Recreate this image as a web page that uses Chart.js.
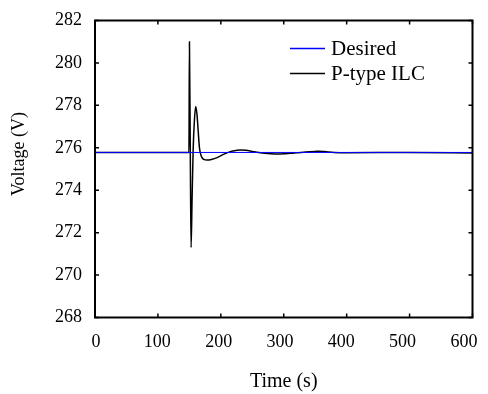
<!DOCTYPE html>
<html>
<head>
<meta charset="utf-8">
<script src="https://cdn.jsdelivr.net/npm/chart.js@4"></script>
<style>
  html, body { margin: 0; padding: 0; background: #fff; }
  #wrap { width: 488px; height: 394px; }
</style>
</head>
<body>
<div id="wrap"><canvas id="voltChart" width="488" height="394"></canvas></div>
<script>
// values
const desiredTime = [0, 600];
const desiredVoltage = [275.78, 275.78];

const ilcTime = [0, 149.3, 150.1, 151.4, 152.7, 154.3, 156, 158, 160, 162, 164, 166, 169,
  173, 178, 185, 195, 205, 215, 225, 231, 240, 250, 260, 270, 280, 290, 300, 310, 320,
  335, 350, 356, 365, 380, 400, 500, 600];
const ilcVoltage = [275.78, 275.78, 281.0, 276.0, 271.3, 273.6, 275.9, 277.3, 277.95, 277.6,
  276.8, 276.0, 275.6, 275.45, 275.42, 275.45, 275.55, 275.7, 275.82, 275.88, 275.9, 275.88,
  275.83, 275.78, 275.74, 275.72, 275.71, 275.72, 275.74, 275.76, 275.8, 275.83, 275.84,
  275.82, 275.78, 275.77, 275.78, 275.76];

const xTicks = [0, 100, 200, 300, 400, 500, 600];
const yTicks = [268, 270, 272, 274, 276, 278, 280, 282];

const serif = '"Liberation Serif", "Times New Roman", serif';

const toPoints = (xs, ys) => xs.map((x, i) => ({ x: x, y: ys[i] }));

// frame + inward ticks on all four sides, y title and the legend
const framePlugin = {
  id: 'frame',
  afterDraw(chart) {
    const { ctx, chartArea: a, scales } = chart;
    ctx.save();
    ctx.strokeStyle = '#000';
    ctx.lineWidth = 1.5;
    const tl = 4;
    ctx.beginPath();
    xTicks.forEach(v => {
      const px = scales.x.getPixelForValue(v);
      ctx.moveTo(px, a.bottom); ctx.lineTo(px, a.bottom - tl);
      ctx.moveTo(px, a.top); ctx.lineTo(px, a.top + tl);
    });
    yTicks.forEach(v => {
      const py = scales.y.getPixelForValue(v);
      ctx.moveTo(a.left, py); ctx.lineTo(a.left + tl, py);
      ctx.moveTo(a.right, py); ctx.lineTo(a.right - tl, py);
    });
    ctx.stroke();
    ctx.lineWidth = 2;
    ctx.strokeRect(a.left, a.top, a.right - a.left, a.bottom - a.top);

    // y axis title (sits a bit above the middle in the original)
    ctx.save();
    ctx.translate(19, 154);
    ctx.rotate(-Math.PI / 2);
    ctx.font = '18px ' + serif;
    ctx.fillStyle = '#000';
    ctx.textAlign = 'center';
    ctx.textBaseline = 'middle';
    ctx.fillText('Voltage (V)', 0, 0);
    ctx.restore();

    // legend
    ctx.font = '21px ' + serif;
    ctx.textBaseline = 'middle';
    ctx.textAlign = 'left';
    chart.data.datasets.slice().reverse().forEach((ds, i) => {
      const y = 48.5 + i * 25;
      ctx.beginPath();
      ctx.strokeStyle = ds.borderColor;
      ctx.lineWidth = 1.5;
      ctx.moveTo(290, y);
      ctx.lineTo(325, y);
      ctx.stroke();
      ctx.fillStyle = '#000';
      ctx.fillText(ds.label, 331, y + 1);
    });
    ctx.restore();
  }
};

new Chart(document.getElementById('voltChart'), {
  type: 'line',
  data: {
    datasets: [
      {
        label: 'P-type ILC',
        data: toPoints(ilcTime, ilcVoltage),
        borderColor: '#000000',
        borderWidth: 1.5,
        pointRadius: 0,
        cubicInterpolationMode: 'monotone',
        order: 2,
      },
      {
        label: 'Desired',
        data: toPoints(desiredTime, desiredVoltage),
        borderColor: '#0000ff',
        borderWidth: 1,
        pointRadius: 0,
        order: 1,
      },
    ],
  },
  options: {
    responsive: false,
    animation: false,
    layout: { padding: { top: 20.5, right: 15.5, left: 0, bottom: 0 } },
    plugins: { legend: { display: false }, tooltip: { enabled: false } },
    scales: {
      // data axis (hidden), the frame ticks come from it
      x: {
        type: 'linear',
        min: 0,
        max: 600,
        display: false,
      },
      // label axis: the original prints its tick labels slightly squeezed towards the left
      xLab: {
        type: 'linear',
        position: 'bottom',
        min: -1.6,
        max: 614,
        afterBuildTicks: s => { s.ticks = xTicks.map(v => ({ value: v })); },
        afterFit: s => { s.height = 76.5; s.paddingLeft = 0; s.paddingRight = 0; },
        grid: { display: false, drawTicks: false },
        border: { display: false },
        ticks: { color: '#000', padding: 14, maxRotation: 0, font: { family: serif, size: 18 } },
        title: { display: true, text: 'Time (s)', color: '#000', padding: { top: 0, bottom: 0 }, font: { family: serif, size: 20 } },
      },
      y: {
        type: 'linear',
        min: 268,
        max: 282,
        afterBuildTicks: s => { s.ticks = yTicks.map(v => ({ value: v })); },
        afterFit: s => { s.width = 95; s.paddingTop = 0; s.paddingBottom = 0; },
        grid: { display: false, drawTicks: false },
        border: { display: false },
        ticks: { color: '#000', padding: 13, font: { family: serif, size: 18 } },
        title: { display: false },
      },
    },
  },
  plugins: [framePlugin],
});
</script>
</body>
</html>
